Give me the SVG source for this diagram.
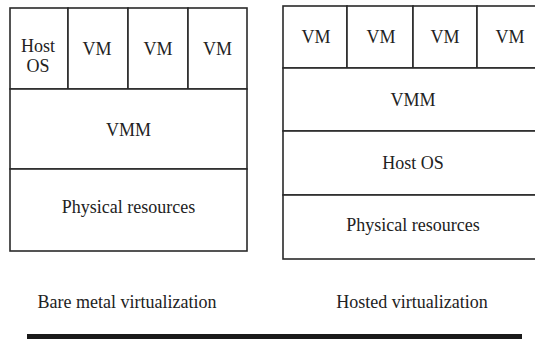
<svg xmlns="http://www.w3.org/2000/svg" width="535" height="339" viewBox="0 0 535 339">
<style>
.b{fill:#fff;stroke:#2a2a2a;stroke-width:1.6}
text{font-family:'Liberation Serif','Times New Roman','DejaVu Serif',serif;font-size:18px;fill:#222;text-anchor:middle}
</style>
<rect width="535" height="339" fill="#fff"/>
<g id="bare-metal" font-family="Liberation Serif, serif">
<g id="bm-hostos"><rect class="b" x="10" y="8" width="58" height="81"/><text x="38" y="52">Host</text><text x="38" y="72">OS</text></g>
<g id="bm-vm1"><rect class="b" x="68" y="8" width="60" height="81"/><text x="97" y="55">VM</text></g>
<g id="bm-vm2"><rect class="b" x="128" y="8" width="60" height="81"/><text x="158" y="55">VM</text></g>
<g id="bm-vm3"><rect class="b" x="188" y="8" width="59" height="81"/><text x="217.5" y="55">VM</text></g>
<g id="bm-vmm"><rect class="b" x="10" y="89" width="237" height="80"/><text x="128.5" y="136">VMM</text></g>
<g id="bm-phys"><rect class="b" x="10" y="169" width="237" height="82"/><text x="128.5" y="213">Physical resources</text></g>
</g>
<g id="hosted">
<g id="h-vm1"><rect class="b" x="283" y="6" width="64" height="62"/><text x="316" y="43">VM</text></g>
<g id="h-vm2"><rect class="b" x="347" y="6" width="66" height="62"/><text x="381" y="43">VM</text></g>
<g id="h-vm3"><rect class="b" x="413" y="6" width="64" height="62"/><text x="445" y="43">VM</text></g>
<g id="h-vm4"><rect class="b" x="477" y="6" width="70" height="62"/><text x="510" y="43">VM</text></g>
<g id="h-vmm"><rect class="b" x="283" y="68" width="264" height="63"/><text x="413" y="106">VMM</text></g>
<g id="h-hostos"><rect class="b" x="283" y="131" width="264" height="64"/><text x="413" y="169">Host OS</text></g>
<g id="h-phys"><rect class="b" x="283" y="195" width="264" height="64"/><text x="413" y="231">Physical resources</text></g>
</g>
<g id="captions">
<text x="127" y="308">Bare metal virtualization</text>
<text x="412" y="308">Hosted virtualization</text>
</g>
<g id="connectors"></g>
<rect x="27" y="334" width="495" height="5" fill="#1a1a1a"/>
</svg>
